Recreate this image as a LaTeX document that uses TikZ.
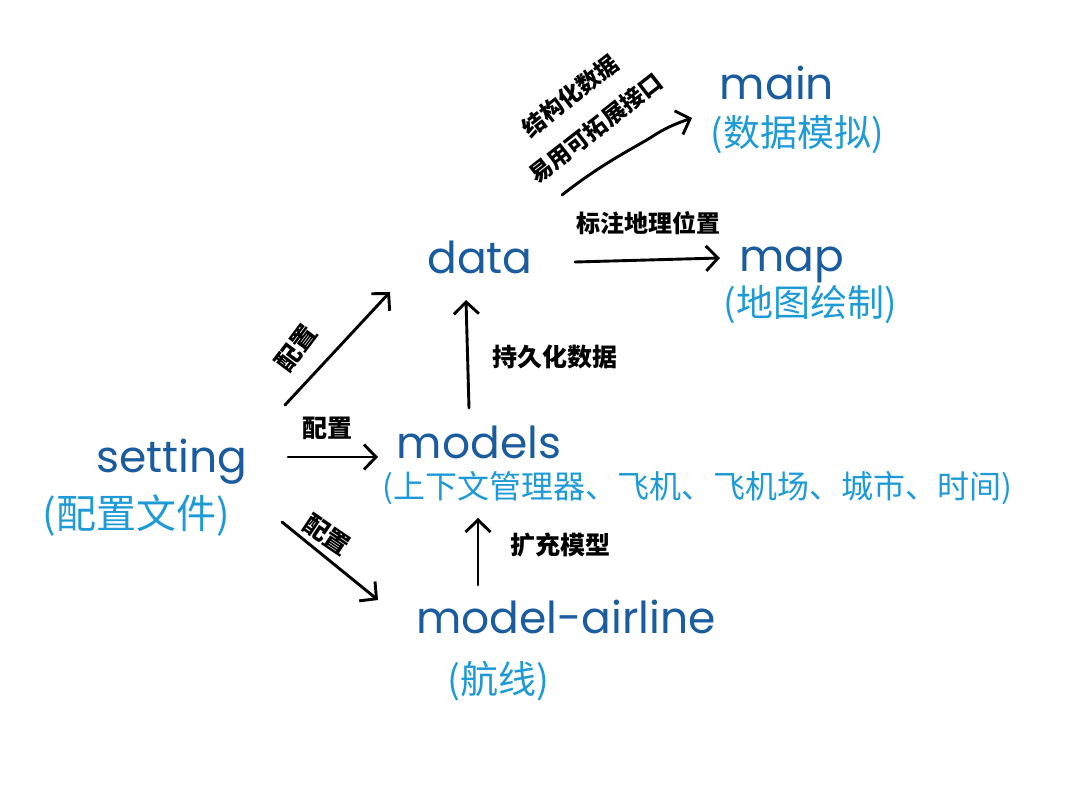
\documentclass[tikz,border=0pt]{standalone}
\usepackage{fontspec}
\setmainfont{Poppins}
\newfontfamily\cjk{Noto Sans CJK SC}
\usetikzlibrary{arrows.meta}
\definecolor{dk}{HTML}{1B5C9E}
\definecolor{lt}{HTML}{1E9BD7}
\tikzset{
 en/.style={text=dk, font=\fontsize{44}{50}\selectfont, inner sep=0pt, anchor=base},
 zh/.style={text=lt, font=\cjk\fontsize{37}{40}\selectfont, inner sep=0pt},
 lbl/.style={text=black, font=\cjk\bfseries\fontsize{25}{28}\selectfont, inner sep=0pt},
 arr/.style={draw=black, line width=2.9pt, line cap=round, -{Straight Barb[length=12pt,width=25pt,line width=2.9pt]}},
}
\begin{document}
\begin{tikzpicture}[x=1pt,y=-1pt]
\fill[white] (0,0) rectangle (1079,805);
\useasboundingbox (0,0) rectangle (1079,805);
% nodes
\node[en] (main) at (777,100) {main};
\node[zh] (mainz) at (797,135) {(数据模拟)};
\node[en] (data) at (480,273) {data};
\node[en] (map) at (792,272) {map};
\node[zh] (mapz) at (810,305) {(地图绘制)};
\node[en] (models) at (479,458) {models};
\node[zh, font=\cjk\fontsize{32}{36}\selectfont] (modelsz) at (697,488) {(上下文管理器、飞机、飞机场、城市、时间)};
\node[en] (setting) at (172,472) {setting};
\node[zh, font=\cjk\fontsize{40}{44}\selectfont] (settingz) at (136,515) {(配置文件)};
\node[en] (airline) at (566,633) {model-airline};
\node[zh, font=\cjk\fontsize{38}{42}\selectfont] (airlinez) at (498,681) {(航线)};
% connector ends
\coordinate (s1) at (285,405);
\coordinate (d1) at (390,292);
\coordinate (s2) at (288,457);
\coordinate (m2) at (378,457);
\coordinate (s3) at (282,522);
\coordinate (a3) at (378,600);
\coordinate (m4) at (469,408);
\coordinate (d4) at (466,300);
\coordinate (a5) at (478,585);
\coordinate (m5) at (478,518);
\coordinate (d6) at (575,262);
\coordinate (p6) at (720,258);
\coordinate (d7) at (562,195);
\coordinate (n7) at (692,118);
% connectors
\draw[arr] (s1) -- (d1);
\draw[arr] (s2) -- (m2);
\draw[arr] (s3) -- (a3);
\draw[arr] (m4) -- (d4);
\draw[arr] (a5) -- (m5);
\draw[arr] (d6) -- (p6);
\draw[arr] (d7) .. controls (600,165) and (630,150) .. (650,138) .. controls (665,128) and (675,124) .. (n7);
% labels
\node[lbl, rotate=53] (l1) at (296,348) {配置};
\node[lbl] (l2) at (327,428) {配置};
\node[lbl, rotate=-34] (l3) at (327,535) {配置};
\node[lbl] (l4) at (555,357) {持久化数据};
\node[lbl] (l5) at (560,545) {扩充模型};
\node[lbl, font=\cjk\bfseries\fontsize{24}{28}\selectfont] (l6) at (648,223) {标注地理位置};
\node[lbl, rotate=38, align=center, font=\cjk\bfseries\fontsize{23}{41}\selectfont] (l7) at (583,112) {结构化数据\\易用可拓展接口};
\end{tikzpicture}
\end{document}
